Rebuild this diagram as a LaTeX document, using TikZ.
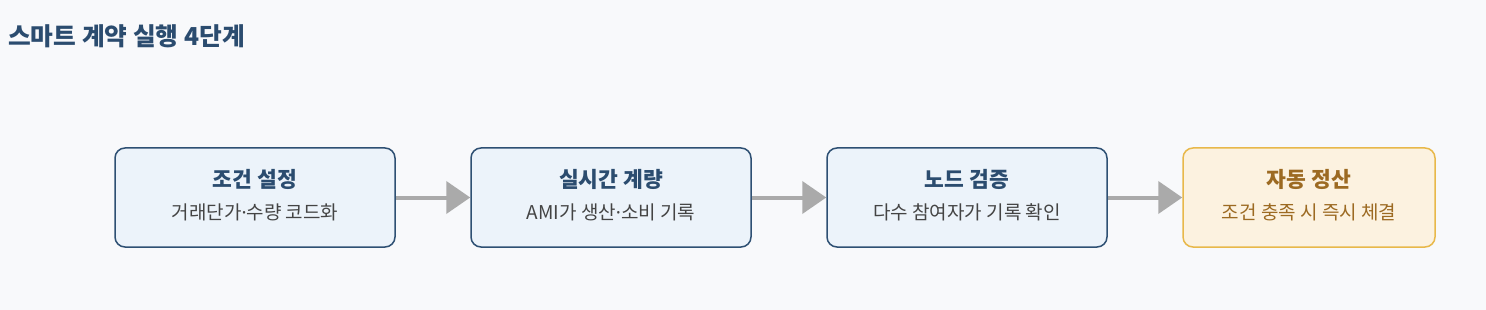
\documentclass[tikz,border=0pt]{standalone}
\usepackage{fontspec}
\setmainfont{Noto Sans CJK KR}
\newfontfamily\latinfont{Noto Sans}
\usetikzlibrary{arrows.meta}
\definecolor{bg}{HTML}{F8F9FB}
\definecolor{navy}{HTML}{2B4C6F}
\definecolor{bluefill}{HTML}{ECF3FA}
\definecolor{blueline}{HTML}{2E5073}
\definecolor{subgray}{HTML}{444444}
\definecolor{goldfill}{HTML}{FCF2E0}
\definecolor{goldline}{HTML}{E8B84A}
\definecolor{goldtext}{HTML}{9C6A22}
\definecolor{arrowgray}{HTML}{AAAAAA}
\newcommand{\mdot}{{\latinfont ·}}
\tikzset{
  stepbox/.style={draw=blueline, fill=bluefill, line width=1.5pt, rounded corners=10pt, minimum height=99pt, inner sep=0pt},
  goldbox/.style={draw=goldline, fill=goldfill, line width=1.5pt, rounded corners=10pt, minimum height=99pt, inner sep=0pt},
  boxtitle/.style={font=\fontsize{21.5}{24}\selectfont\bfseries, text=navy, anchor=base, inner sep=0pt},
  boxsub/.style={font=\fontsize{19}{21}\selectfont, text=subgray, anchor=base, inner sep=0pt},
  flow/.style={draw=arrowgray, line width=4pt, -{Triangle[length=24pt, width=32pt]}, shorten >=0pt}
}
\begin{document}
\begin{tikzpicture}[x=1pt,y=-1pt]
\fill[bg] (0,0) rectangle (1486,310);
\useasboundingbox (0,0) rectangle (1486,310);
\node[anchor=base west, inner sep=0pt, font=\fontsize{24.7}{28}\selectfont\bfseries, text=navy] (title) at (8,46) {스마트 계약 실행 4단계};
\node[stepbox, minimum width=280pt] (b1) at (255,197.5) {};
\node[stepbox, minimum width=280pt] (b2) at (611,197.5) {};
\node[stepbox, minimum width=280pt] (b3) at (967,197.5) {};
\node[goldbox, minimum width=252pt] (b4) at (1309,197.5) {};
\node[boxtitle] (t1) at (255,187) {조건 설정};
\node[boxsub] (s1) at (255,219.5) {거래단가\mdot 수량 코드화};
\node[boxtitle] (t2) at (611,187) {실시간 계량};
\node[boxsub] (s2) at (611,219.5) {AMI가 생산\mdot 소비 기록};
\node[boxtitle] (t3) at (967,187) {노드 검증};
\node[boxsub] (s3) at (967,219.5) {다수 참여자가 기록 확인};
\node[boxtitle, text=goldtext] (t4) at (1309,187) {자동 정산};
\node[boxsub, text=goldtext] (s4) at (1309,219.5) {조건 충족 시 즉시 체결};
\draw[flow] (b1.east) -- (b2.west);
\draw[flow] (b2.east) -- (b3.west);
\draw[flow] (b3.east) -- (b4.west);
\end{tikzpicture}
\end{document}
